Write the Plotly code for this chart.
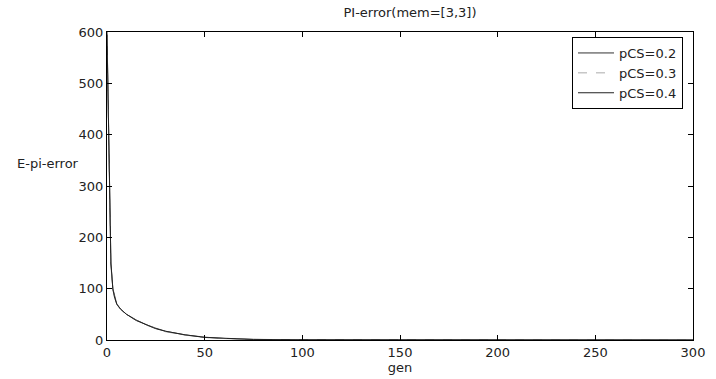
import plotly.graph_objects as go

gens = [0, 1, 2, 3, 4, 5, 7, 10, 15, 20, 25, 30, 40, 50, 60, 75, 100, 150, 200, 250, 300]
err_02 = [600, 380, 150, 100, 82, 70, 60, 50, 39, 30, 23, 17, 10, 5.5, 3, 1.2, 0.5, 0.2, 0.1, 0.1, 0.1]
err_03 = [590, 370, 145, 98, 80, 69, 59, 49, 38, 29, 22, 16, 9.5, 5, 2.8, 1.1, 0.5, 0.2, 0.1, 0.1, 0.1]
err_04 = [595, 375, 148, 99, 81, 70, 60, 50, 38, 30, 22, 17, 10, 5, 3, 1.1, 0.5, 0.2, 0.1, 0.1, 0.1]
names = ["pCS=0.2", "pCS=0.3", "pCS=0.4"]

font = dict(family="DejaVu Sans, Liberation Sans, sans-serif", size=13, color="#222")

fig = go.Figure()
fig.add_trace(go.Scatter(x=gens, y=err_02, mode="lines", name=names[0],
                         line=dict(color="#333", width=1)))
fig.add_trace(go.Scatter(x=gens, y=err_03, mode="lines", name=names[1],
                         line=dict(color="#aaa", width=1, dash="dash")))
fig.add_trace(go.Scatter(x=gens, y=err_04, mode="lines", name=names[2],
                         line=dict(color="#222", width=1)))

axis_common = dict(showline=True, linecolor="black", linewidth=1, mirror="ticks",
                   ticks="inside", ticklen=5, tickcolor="black", showgrid=False,
                   zeroline=False, tickfont=font, automargin=False)

fig.update_layout(
    width=716, height=379,
    margin=dict(l=107, r=23, t=32, b=39),
    paper_bgcolor="white", plot_bgcolor="white",
    font=font,
    title=dict(text="PI-error(mem=[3,3])", x=410/716, xanchor="center",
               y=1 - 12/379, yanchor="middle", font=font),
    xaxis=dict(range=[0, 300], tickvals=[0, 50, 100, 150, 200, 250, 300],
               title=dict(text="gen", font=font, standoff=1), **axis_common),
    yaxis=dict(range=[0, 600], tickvals=[0, 100, 200, 300, 400, 500, 600],
               **axis_common),
    legend=dict(x=(683 - 107) / 586, xanchor="right", y=(340 - 37) / 308, yanchor="top",
                bordercolor="black", borderwidth=1, bgcolor="white",
                font=font, tracegroupgap=0, itemwidth=36),
    showlegend=True,
)

fig.add_annotation(text="E-pi-error", xref="paper", yref="paper",
                   x=(15 - 107) / 586, xanchor="left", y=(340 - 163) / 308,
                   yanchor="middle", showarrow=False, font=font)

fig.write_html("out.html")
